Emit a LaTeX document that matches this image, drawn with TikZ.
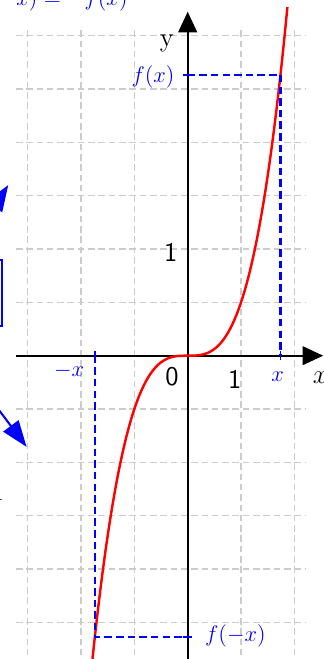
\documentclass[tikz,border=0pt]{standalone}
\usetikzlibrary{arrows.meta}
\tikzset{
	gridline/.style={gray!40, line width=0.6pt, dash pattern=on 3.5pt off 2pt},
	axisline/.style={black, line width=1pt, -{Triangle[length=11pt,width=10pt]}},
	guide/.style={blue, line width=1.1pt, dash pattern=on 4pt off 2.2pt},
	bluearrow/.style={blue, line width=1.1pt, -{Triangle[length=14pt,width=10pt]}},
	lbl/.style={font=\large, inner sep=0pt},
	biglbl/.style={font=\Large, inner sep=0pt},
}
\begin{document}
\begin{tikzpicture}
		\useasboundingbox (-3.519,-5.687) rectangle (2.556,6.669);
		\clip (-3.519,-5.687) rectangle (2.556,6.669);

		% grid and axes
		\draw[gridline] (-3.22,-6.2) grid (2.22,6.13);
		\coordinate (xstart) at (-3.22,0);
		\coordinate (xend) at (2.54,0);
		\coordinate (ystart) at (0,-6.2);
		\coordinate (yend) at (0,6.45);
		\draw[axisline] (xstart) -- (xend);
		\draw[axisline] (ystart) -- (yend);
		\node[biglbl] (ylab) at (-0.39,5.86) {y};
		\node[biglbl] (xlab) at (2.49,-0.42) {$x$};
		\node[biglbl, anchor=base] (zero) at (-0.295,-0.55) {\sffamily 0};
		\node[biglbl, anchor=base] (onex) at (0.88,-0.62) {\sffamily 1};
		\node[biglbl, anchor=base] (oney) at (-0.317,1.763) {\sffamily 1};

		% odd function y = x^3
		\draw[red, line width=1.3pt, domain=-1.86:1.87, samples=120, smooth] plot (\x, {\x*\x*\x});

		% the point x and its mirror -x
		\coordinate (fx) at (0,5.268);
		\coordinate (px) at (1.74,5.268);
		\coordinate (xx) at (1.74,0);
		\coordinate (mx) at (-1.74,0);
		\coordinate (pm) at (-1.74,-5.268);
		\coordinate (fm) at (0,-5.268);
		\draw[guide] (fx) -- (px) -- (xx);
		\draw[guide] (mx) -- (pm) -- (fm);
		\foreach \c in {fx, fm}
		\draw[blue, line width=1pt] ([xshift=-2.5pt]\c) -- ([xshift=2.5pt]\c);
		\foreach \c in {xx, mx}
		\draw[blue, line width=1pt] ([yshift=-2.5pt]\c) -- ([yshift=2.5pt]\c);
		\node[lbl, blue, anchor=base] (fxlab) at (-0.65,5.13) {$f(x)$};
		\node[lbl, blue, anchor=base] (xlabb) at (1.685,-0.488) {$x$};
		\node[lbl, blue, anchor=base] (mxlab) at (-2.225,-0.394) {$-x$};
		\node[lbl, blue, anchor=base] (fmlab) at (0.895,-5.36) {$f(-x)$};

		% pieces cut by the left and top edges
		\node[lbl, blue, anchor=base east] (rule) at (-1.12,6.57) {$f(-x) = -f(x)$};
		\draw[blue, line width=1.1pt] (-5,0.557) rectangle (-3.48,1.795);
		\coordinate (upfrom) at (-4.2,1.9);
		\coordinate (upto) at (-3.364,3.20);
		\coordinate (downfrom) at (-3.92,-0.51);
		\coordinate (downto) at (-3.02,-1.71);
		\draw[bluearrow] (upfrom) -- (upto);
		\draw[bluearrow] (downfrom) -- (downto);
		\node[biglbl, anchor=base east] (cut) at (-3.465,-2.71) {l};

	\end{tikzpicture}
\end{document}
